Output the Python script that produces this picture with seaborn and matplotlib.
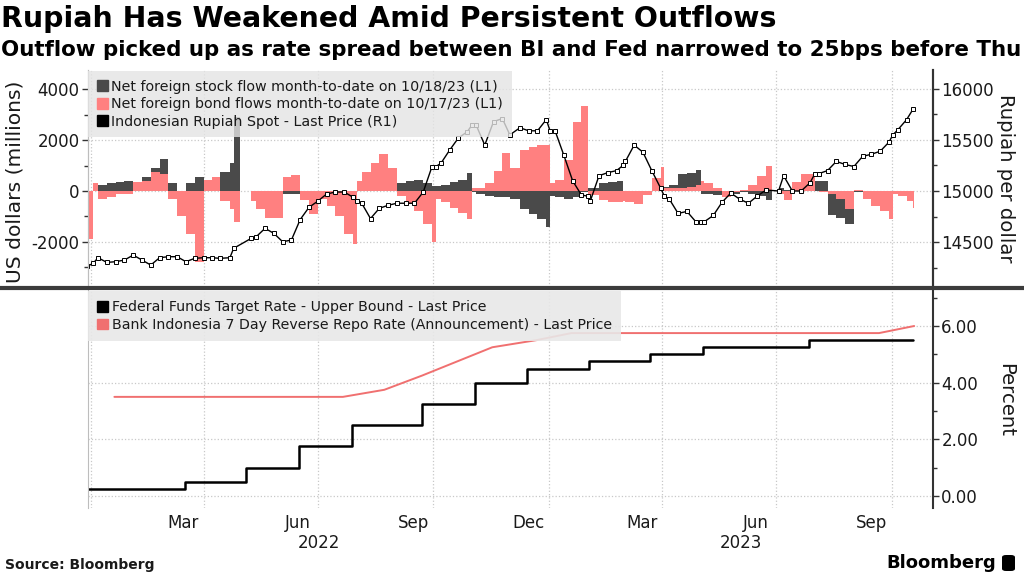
"""
Rupiah vs. foreign portfolio flows, with Fed / BI policy rates below.
"""

import numpy as np
import pandas as pd
import matplotlib
matplotlib.use("Agg")
import matplotlib.pyplot as plt
import matplotlib.dates as mdates
import matplotlib.transforms as mtransforms
from matplotlib.lines import Line2D
from matplotlib.patches import Patch, FancyBboxPatch
from matplotlib.ticker import MultipleLocator, FixedLocator, FuncFormatter
import seaborn as sns

sns.set_style("white")
plt.rcParams['font.family'] = ['DejaVu Sans']
plt.rcParams['axes.unicode_minus'] = False

STOCK_COLOR = '#4a4a4a'
BOND_COLOR = '#ff8080'
TEXT_COLOR = '#1a1a1a'

# ---- data ----
flow_dates = [
    '2021-12-29', '2022-01-03', '2022-01-07', '2022-01-14', '2022-01-21', '2022-01-28',
    '2022-02-04', '2022-02-11', '2022-02-18', '2022-02-25',
    '2022-03-04', '2022-03-11', '2022-03-18', '2022-03-25',
    '2022-04-01', '2022-04-08', '2022-04-14', '2022-04-22', '2022-04-25', '2022-04-30',
    '2022-05-09', '2022-05-13', '2022-05-20', '2022-05-27',
    '2022-06-03', '2022-06-10', '2022-06-17', '2022-06-24',
    '2022-07-01', '2022-07-08', '2022-07-15', '2022-07-22', '2022-07-29',
    '2022-08-01', '2022-08-05', '2022-08-12', '2022-08-19', '2022-08-26',
    '2022-09-02', '2022-09-09', '2022-09-16', '2022-09-23', '2022-09-30',
    '2022-10-03', '2022-10-07', '2022-10-14', '2022-10-21', '2022-10-28',
    '2022-11-01', '2022-11-04', '2022-11-11', '2022-11-18', '2022-11-25',
    '2022-12-01', '2022-12-09', '2022-12-16', '2022-12-23', '2022-12-30',
    '2023-01-02', '2023-01-06', '2023-01-13', '2023-01-20', '2023-01-27',
    '2023-02-01', '2023-02-03', '2023-02-10', '2023-02-17', '2023-02-24',
    '2023-03-01', '2023-03-03', '2023-03-10', '2023-03-17', '2023-03-24', '2023-03-31',
    '2023-04-03', '2023-04-07', '2023-04-14', '2023-04-21', '2023-04-28',
    '2023-05-02', '2023-05-05', '2023-05-12', '2023-05-19', '2023-05-26',
    '2023-06-02', '2023-06-09', '2023-06-16', '2023-06-23', '2023-06-28',
    '2023-07-03', '2023-07-07', '2023-07-14', '2023-07-21', '2023-07-28',
    '2023-08-01', '2023-08-04', '2023-08-11', '2023-08-18', '2023-08-25',
    '2023-09-01', '2023-09-08', '2023-09-15', '2023-09-22', '2023-09-29',
    '2023-10-02', '2023-10-06', '2023-10-13', '2023-10-18',
]

# net foreign stock flow, month-to-date (USD mn)
stock_flow = [
    0, 100, 250, 320, 350, 400,
    150, 550, 900, 1250,
    300, -50, 300, 550,
    100, 550, 750, 1100, 2900, 0,
    -100, -300, -600, -500,
    -100, -100, -100, -100,
    -50, -50, -50, -50, 0,
    200, 200, 100, 50, 50,
    300, 400, 450, 300, 200,
    200, 250, 350, 450, 700,
    -50, -100, -200, -250, -250,
    -300, -700, -900, -1100, -1400,
    -200, -250, -300, -250, -50,
    100, 100, 300, 350, 400,
    0, 0, 0, -50, 0, 0,
    150, 250, 650, 700, 820,
    -100, -100, -150, -100, -100,
    -50, -100, -200, -350, 0,
    100, 50, 0, 0, 100,
    400, 400, -950, -1050, -1300,
    -50, -50, -50, -50, -50,
    -50, -50, 0, 0,
]

# net foreign bond flows, month-to-date (USD mn)
bond_flow = [
    -1900, 300, -300, -250, -100, -100,
    350, 400, 750, 650,
    -300, -1000, -1700, -2800,
    450, 550, -400, -700, -1200, 0,
    -400, -700, -1050, -1050,
    560, 620, -350, -900,
    -300, -600, -1000, -1700, -2100,
    400, 750, 1100, 1450, 900,
    -200, -500, -800, -1300, -2000,
    -300, -450, -650, -850, -1100,
    100, 100, 300, 800, 1500,
    900, 1600, 1750, 1800, 1800,
    300, 450, 1200, 2700, 3350,
    -100, -150, -350, -450, -450,
    -400, -450, -500, -150, 500, 950,
    100, 100, 100, 150, 250,
    390, 300, 100, -250, -50,
    50, 250, 600, 1000, 0,
    -100, -350, 350, 650, 650,
    0, -50, -100, -300, -700,
    50, -300, -600, -800, -1100,
    -100, -200, -400, -650,
]

# USD/IDR spot (rupiah per dollar)
rupiah_spot = [
    14260, 14290, 14346, 14300, 14307, 14323,
    14372, 14323, 14274, 14346,
    14356, 14356, 14307, 14340,
    14346, 14346, 14340, 14346, 14438, np.nan,
    14536, 14552, 14634, 14585,
    14503, 14519, 14720, 14840,
    14900, 14970, 14990, 14990, 14940,
    14900, 14880, 14730, 14830, 14860,
    14880, 14880, 14880, 14990, 15240,
    15240, 15270, 15400, 15520, 15580,
    15650, 15650, 15450, 15680, 15710,
    15550, 15620, 15590, 15590, 15700,
    15590, 15590, 15350, 15100, 14960,
    14950, 14900, 15150, 15180, 15200,
    15250, 15290, 15450, 15380, 15200, 15030,
    14950, 14920, 14780, 14800, 14700,
    14700, 14700, 14760, 14890, 14980,
    14920, 14880, 14950, 15010, np.nan,
    15000, 15150, 15000, 15000, 15080,
    15170, 15170, 15200, 15290, 15260,
    15240, 15340, 15360, 15390, 15480,
    15550, 15600, 15700, 15800,
]

fed_dates = ['2021-12-30', '2022-03-17', '2022-05-05', '2022-06-16', '2022-07-28',
             '2022-09-22', '2022-11-03', '2022-12-15', '2023-02-02', '2023-03-23',
             '2023-05-04', '2023-07-27', '2023-10-18']
fed_rate = [0.25, 0.50, 1.00, 1.75, 2.50, 3.25, 4.00, 4.50, 4.75, 5.00, 5.25, 5.50, 5.50]

bi_dates = ['2022-01-20', '2022-02-10', '2022-03-17', '2022-04-19', '2022-05-24',
            '2022-06-23', '2022-07-21', '2022-08-23', '2022-09-22', '2022-10-20',
            '2022-11-17', '2022-12-22', '2023-01-19', '2023-02-16', '2023-03-16',
            '2023-04-18', '2023-05-25', '2023-06-22', '2023-07-25', '2023-08-24',
            '2023-09-21', '2023-10-19']
bi_rate = [3.50, 3.50, 3.50, 3.50, 3.50, 3.50, 3.50, 3.75, 4.25, 4.75, 5.25, 5.50,
           5.75, 5.75, 5.75, 5.75, 5.75, 5.75, 5.75, 5.75, 5.75, 6.00]

month_tick_dates = ['2022-03-16', '2022-06-15', '2022-09-15', '2022-12-16',
                    '2023-03-16', '2023-06-15', '2023-09-15']
month_tick_labels = ['Mar', 'Jun', 'Sep', 'Dec', 'Mar', 'Jun', 'Sep']
year_label_dates = ['2022-07-02', '2023-06-03']
year_labels = ['2022', '2023']

flows = pd.DataFrame({
    'date': pd.to_datetime(flow_dates),
    'stock': stock_flow,
    'bond': bond_flow,
    'rupiah': rupiah_spot,
})
flows['x'] = mdates.date2num(flows['date'])
widths = np.append(np.diff(flows['x'].values), 1.0)

fed = pd.DataFrame({'x': mdates.date2num(pd.to_datetime(fed_dates)), 'rate': fed_rate})
bi = pd.DataFrame({'x': mdates.date2num(pd.to_datetime(bi_dates)), 'rate': bi_rate})

xmin = mdates.date2num(pd.Timestamp('2021-12-30'))
xmax = mdates.date2num(pd.Timestamp('2023-11-03'))

# ---- figure ----
W, H = 1024, 576
fig = plt.figure(figsize=(W / 100, H / 100), dpi=100)
ax1 = fig.add_axes([88 / W, 1 - 287 / H, 845 / W, 217 / H])
ax2 = ax1.twinx()
axb = fig.add_axes([88 / W, 1 - 508 / H, 845 / W, 218 / H])

# top panel: flows (left) and rupiah (right)
ax1.bar(flows['x'], flows['stock'], width=widths, align='edge',
        color=STOCK_COLOR, linewidth=0, zorder=2)
ax1.bar(flows['x'], flows['bond'], width=widths, align='edge',
        color=BOND_COLOR, linewidth=0, zorder=3)
sns.lineplot(data=flows, x='x', y='rupiah', ax=ax2, color='black', linewidth=1.0,
             marker='s', markersize=2.6, markerfacecolor='white',
             markeredgecolor='black', markeredgewidth=0.7, sort=False)

ax1.set_xlim(xmin, xmax)
ax1.set_ylim(-3776, 4759)
ax2.set_ylim(14059, 16186)

ax1.yaxis.set_major_locator(MultipleLocator(2000))
ax1.yaxis.set_minor_locator(MultipleLocator(1000))
ax2.yaxis.set_major_locator(MultipleLocator(500))
ax2.yaxis.set_minor_locator(MultipleLocator(250))
ax2.yaxis.set_major_formatter(FuncFormatter(lambda v, p: f'{v:.0f}'))

for ax in (ax1, axb):
    ax.xaxis.set_minor_locator(mdates.MonthLocator(bymonth=[1, 4, 7, 10]))
    ax.xaxis.set_major_locator(FixedLocator(mdates.date2num(pd.to_datetime(month_tick_dates))))
    ax.grid(True, which='minor', axis='x', color='#c8c8c8', linestyle=':', linewidth=0.9)
    ax.set_axisbelow(True)

ax1.grid(True, which='major', axis='y', color='#c8c8c8', linestyle=':', linewidth=0.9)
ax1.tick_params(axis='x', which='both', length=0, labelbottom=False)
ax1.tick_params(axis='y', which='major', length=4, width=1, color='#333333',
                labelsize=12, labelcolor=TEXT_COLOR, pad=2)
ax1.tick_params(axis='y', which='minor', length=3, width=1, color='#333333')
ax2.tick_params(axis='y', which='major', length=4, width=1, color='#333333',
                labelsize=12, labelcolor=TEXT_COLOR, pad=2)
ax2.tick_params(axis='y', which='minor', length=3, width=1, color='#333333')
ax2.set_ylabel('')
ax2.set_xlabel('')
ax1.set_xlabel('')

for ax in (ax1, ax2):
    for side in ('top', 'bottom'):
        ax.spines[side].set_visible(False)
    ax.spines['left'].set_color('#bdbdbd')
    ax.spines['left'].set_linewidth(0.8)
    ax.spines['right'].set_color('#333333')
    ax.spines['right'].set_linewidth(1.5)

top_handles = [Patch(color=STOCK_COLOR), Patch(color=BOND_COLOR), Patch(color='black')]
top_labels = ['Net foreign stock flow month-to-date on 10/18/23 (L1)',
              'Net foreign bond flows month-to-date on 10/17/23 (L1)',
              'Indonesian Rupiah Spot - Last Price (R1)']
leg = ax2.legend(top_handles, top_labels, loc='upper left', bbox_to_anchor=(0.0, 0.995),
                 frameon=True, fancybox=False, facecolor='#e4e4e4', edgecolor='none',
                 framealpha=0.8, fontsize=10.25, handlelength=0.78, handleheight=0.78,
                 handletextpad=0.25, labelspacing=0.25, borderpad=0.6, borderaxespad=0.0)
for t in leg.get_texts():
    t.set_color(TEXT_COLOR)

# bottom panel: policy rates
sns.lineplot(data=bi, x='x', y='rate', ax=axb, color='#f07070', linewidth=1.4, sort=False)
sns.lineplot(data=fed, x='x', y='rate', ax=axb, color='black', linewidth=1.8,
             drawstyle='steps-post', sort=False)
axb.set_xlim(xmin, xmax)
axb.set_ylim(-0.42, 7.27)
axb.yaxis.tick_right()
axb.yaxis.set_label_position('right')
axb.yaxis.set_major_locator(MultipleLocator(2))
axb.yaxis.set_minor_locator(MultipleLocator(1))
axb.yaxis.set_major_formatter(FuncFormatter(lambda v, p: f'{v:.2f}'))
axb.grid(True, which='major', axis='y', color='#c8c8c8', linestyle=':', linewidth=0.9)
axb.xaxis.set_major_formatter(FuncFormatter(lambda v, p: ''))
axb.set_xticklabels(month_tick_labels)
axb.tick_params(axis='x', which='both', length=0, labelsize=12, labelcolor=TEXT_COLOR, pad=4)
axb.tick_params(axis='y', which='major', length=4, width=1, color='#333333',
                labelsize=12, labelcolor=TEXT_COLOR, pad=2)
axb.tick_params(axis='y', which='minor', length=3, width=1, color='#333333')
axb.set_xlabel('')
axb.set_ylabel('')
for side in ('top', 'bottom'):
    axb.spines[side].set_visible(False)
axb.spines['left'].set_color('#bdbdbd')
axb.spines['left'].set_linewidth(0.8)
axb.spines['right'].set_color('#333333')
axb.spines['right'].set_linewidth(1.5)

bot_handles = [Patch(color='black'), Patch(color='#f07070')]
bot_labels = ['Federal Funds Target Rate - Upper Bound - Last Price',
              'Bank Indonesia 7 Day Reverse Repo Rate (Announcement) - Last Price']
legb = axb.legend(bot_handles, bot_labels, loc='upper left', bbox_to_anchor=(0.0, 0.995),
                  frameon=True, fancybox=False, facecolor='#e8e8e8', edgecolor='none',
                  framealpha=0.9, fontsize=10.2, handlelength=0.78, handleheight=0.78,
                  handletextpad=0.25, labelspacing=0.25, borderpad=0.65, borderaxespad=0.0)
for t in legb.get_texts():
    t.set_color(TEXT_COLOR)

year_trans = mtransforms.blended_transform_factory(axb.transData, fig.transFigure)
for d, lab in zip(year_label_dates, year_labels):
    axb.text(mdates.date2num(pd.Timestamp(d)), 1 - 543 / H, lab, transform=year_trans,
             ha='center', va='center', fontsize=12, color=TEXT_COLOR)

# separator between panels
fig.add_artist(Line2D([0, 1], [1 - 288 / H, 1 - 288 / H], transform=fig.transFigure,
                      color='#3c3c3c', linewidth=3))

# axis titles
fig.text(15 / W, 1 - 182 / H, 'US dollars (millions)', rotation=90, ha='center',
         va='center', fontsize=14.6, color=TEXT_COLOR)
fig.text(1006 / W, 1 - 178 / H, 'Rupiah per dollar', rotation=270, ha='center',
         va='center', fontsize=14.2, color=TEXT_COLOR)
fig.text(1006 / W, 1 - 400 / H, 'Percent', rotation=270, ha='center',
         va='center', fontsize=14.2, color=TEXT_COLOR)

# titles
fig.text(1 / W, 1 - 5 / H, 'Rupiah Has Weakened Amid Persistent Outflows',
         ha='left', va='top', fontsize=20.4, fontweight='bold', color='black')
fig.text(1 / W, 1 - 40 / H,
         'Outflow picked up as rate spread between BI and Fed narrowed to 25bps before Thu',
         ha='left', va='top', fontsize=15.4, fontweight='bold', color='black')

# footer
fig.text(5 / W, 1 - 565 / H, 'Source: Bloomberg', ha='left', va='center',
         fontsize=10, fontweight='bold', color=TEXT_COLOR)
fig.text(996 / W, 1 - 563 / H, 'Bloomberg', ha='right', va='center',
         fontsize=13, fontweight='bold', color='black')
fig.add_artist(FancyBboxPatch((1002 / W, 1 - 571 / H), 13 / W, 16 / H,
                              boxstyle='round,pad=0,rounding_size=0.004',
                              transform=fig.transFigure, facecolor='black',
                              edgecolor='none'))

fig.savefig('out.png', dpi=100)
plt.close(fig)
